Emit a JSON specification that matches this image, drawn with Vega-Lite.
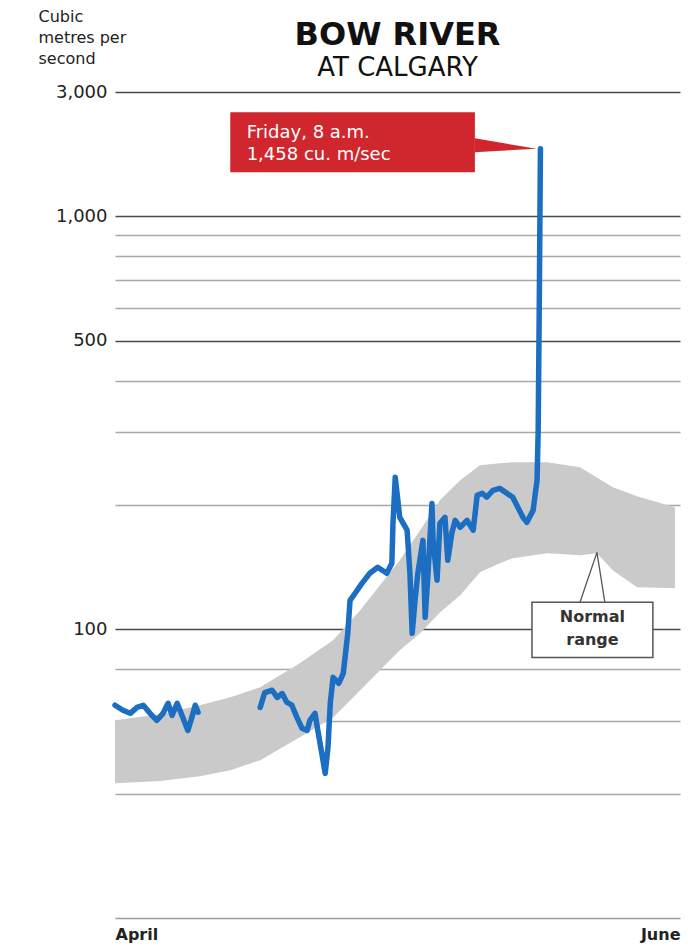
{
  "$schema": "https://vega.github.io/schema/vega-lite/v6.json",
  "width": 565,
  "height": 826,
  "autosize": "none",
  "padding": {"left": 115, "top": 92, "right": 8, "bottom": 29},
  "background": "white",
  "config": {"view": {"stroke": null}, "font": "DejaVu Sans"},
  "title": {
    "text": "BOW RIVER",
    "subtitle": "AT CALGARY",
    "frame": "group",
    "anchor": "middle",
    "font": "DejaVu Sans",
    "fontSize": 32,
    "fontWeight": "bold",
    "color": "#111111",
    "subtitleFont": "DejaVu Sans",
    "subtitleFontSize": 26,
    "subtitleColor": "#111111",
    "subtitlePadding": 3,
    "offset": 10,
    "dy": 84
  },
  "datasets": {
    "band": [
      {"day": 0, "v": 60.2, "v2": 42.4},
      {"day": 8.0, "v": 62.3, "v2": 42.9},
      {"day": 15.0, "v": 65.5, "v2": 44.1},
      {"day": 20.4, "v": 68.5, "v2": 45.6},
      {"day": 25.7, "v": 72.4, "v2": 48.2},
      {"day": 32.7, "v": 82.8, "v2": 54.8},
      {"day": 38.6, "v": 94.1, "v2": 61.2},
      {"day": 43.4, "v": 111.2, "v2": 71.2},
      {"day": 46.9, "v": 127.8, "v2": 79.6},
      {"day": 50.4, "v": 146.9, "v2": 89.0},
      {"day": 54.0, "v": 173.7, "v2": 97.8},
      {"day": 57.5, "v": 205.3, "v2": 109.9},
      {"day": 61.1, "v": 229.5, "v2": 120.9},
      {"day": 64.6, "v": 249.5, "v2": 137.4},
      {"day": 68.1, "v": 252.3, "v2": 144.5},
      {"day": 70.4, "v": 253.7, "v2": 148.6},
      {"day": 76.5, "v": 253.7, "v2": 152.8},
      {"day": 82.3, "v": 246.8, "v2": 151.1},
      {"day": 85.3, "v": 233.3, "v2": 152.8},
      {"day": 88.1, "v": 220.7, "v2": 139.0},
      {"day": 92.4, "v": 209.9, "v2": 126.4},
      {"day": 99.1, "v": 197.4, "v2": 125.7}
    ],
    "flow": [
      {"seg": "a", "day": 0, "v": 65.5},
      {"seg": "a", "day": 1.4, "v": 63.7},
      {"seg": "a", "day": 2.7, "v": 62.6},
      {"seg": "a", "day": 3.9, "v": 64.7},
      {"seg": "a", "day": 5.0, "v": 65.5},
      {"seg": "a", "day": 6.2, "v": 62.6},
      {"seg": "a", "day": 7.4, "v": 60.2},
      {"seg": "a", "day": 8.5, "v": 62.6},
      {"seg": "a", "day": 9.4, "v": 66.2},
      {"seg": "a", "day": 10.1, "v": 61.9},
      {"seg": "a", "day": 11.0, "v": 66.2},
      {"seg": "a", "day": 11.5, "v": 63.7},
      {"seg": "a", "day": 12.4, "v": 59.2},
      {"seg": "a", "day": 12.9, "v": 56.9},
      {"seg": "a", "day": 13.6, "v": 61.2},
      {"seg": "a", "day": 14.2, "v": 65.5},
      {"seg": "a", "day": 14.7, "v": 63.0},
      {"seg": "b", "day": 25.7, "v": 64.7},
      {"seg": "b", "day": 26.5, "v": 70.3},
      {"seg": "b", "day": 27.8, "v": 71.2},
      {"seg": "b", "day": 28.7, "v": 68.4},
      {"seg": "b", "day": 29.6, "v": 69.9},
      {"seg": "b", "day": 30.4, "v": 66.6},
      {"seg": "b", "day": 31.3, "v": 65.5},
      {"seg": "b", "day": 32.2, "v": 61.2},
      {"seg": "b", "day": 33.1, "v": 57.6},
      {"seg": "b", "day": 34.0, "v": 56.9},
      {"seg": "b", "day": 34.5, "v": 60.2},
      {"seg": "b", "day": 35.4, "v": 62.6},
      {"seg": "b", "day": 35.9, "v": 56.9},
      {"seg": "b", "day": 36.6, "v": 50.1},
      {"seg": "b", "day": 37.2, "v": 44.8},
      {"seg": "b", "day": 37.7, "v": 51.8},
      {"seg": "b", "day": 38.1, "v": 66.2},
      {"seg": "b", "day": 38.6, "v": 76.5},
      {"seg": "b", "day": 39.6, "v": 74.0},
      {"seg": "b", "day": 40.4, "v": 78.2},
      {"seg": "b", "day": 41.2, "v": 97.8},
      {"seg": "b", "day": 41.6, "v": 117.5},
      {"seg": "b", "day": 42.5, "v": 122.3},
      {"seg": "b", "day": 43.7, "v": 129.2},
      {"seg": "b", "day": 45.1, "v": 136.7},
      {"seg": "b", "day": 46.5, "v": 141.3},
      {"seg": "b", "day": 48.1, "v": 136.7},
      {"seg": "b", "day": 49.0, "v": 144.5},
      {"seg": "b", "day": 49.2, "v": 180.6},
      {"seg": "b", "day": 49.6, "v": 233.5},
      {"seg": "b", "day": 50.4, "v": 186.7},
      {"seg": "b", "day": 51.7, "v": 173.8},
      {"seg": "b", "day": 52.2, "v": 136.7},
      {"seg": "b", "day": 52.6, "v": 97.8},
      {"seg": "b", "day": 53.1, "v": 117.5},
      {"seg": "b", "day": 53.6, "v": 136.7},
      {"seg": "b", "day": 54.5, "v": 164.2},
      {"seg": "b", "day": 54.9, "v": 106.9},
      {"seg": "b", "day": 55.4, "v": 136.7},
      {"seg": "b", "day": 56.1, "v": 201.7},
      {"seg": "b", "day": 56.3, "v": 164.2},
      {"seg": "b", "day": 57.0, "v": 131.4},
      {"seg": "b", "day": 57.5, "v": 180.6},
      {"seg": "b", "day": 58.4, "v": 186.7},
      {"seg": "b", "day": 58.9, "v": 146.9},
      {"seg": "b", "day": 59.6, "v": 170.6},
      {"seg": "b", "day": 60.2, "v": 183.6},
      {"seg": "b", "day": 61.1, "v": 176.6},
      {"seg": "b", "day": 62.3, "v": 183.6},
      {"seg": "b", "day": 63.4, "v": 173.8},
      {"seg": "b", "day": 64.1, "v": 211.0},
      {"seg": "b", "day": 65.0, "v": 213.5},
      {"seg": "b", "day": 65.8, "v": 208.9},
      {"seg": "b", "day": 66.9, "v": 217.1},
      {"seg": "b", "day": 68.1, "v": 219.4},
      {"seg": "b", "day": 70.4, "v": 208.9},
      {"seg": "b", "day": 72.2, "v": 186.7},
      {"seg": "b", "day": 72.9, "v": 181.6},
      {"seg": "b", "day": 74.0, "v": 194.1},
      {"seg": "b", "day": 74.7, "v": 229.6},
      {"seg": "b", "day": 74.9, "v": 303.4},
      {"seg": "b", "day": 75.1, "v": 627},
      {"seg": "b", "day": 75.3, "v": 1458}
    ],
    "callout_box": [{"day": 20.4, "day2": 63.7, "v": 1786, "v2": 1278}],
    "callout_pointer": [
      {"day": 63.7, "v": 1545, "v2": 1429},
      {"day": 74.6, "v": 1458, "v2": 1458}
    ],
    "callout_text": [
      {"day": 23.3, "v": 1588, "label": "Friday, 8 a.m."},
      {"day": 23.3, "v": 1405, "label": "1,458 cu. m/sec"}
    ],
    "normal_pointer": [
      {"day": 82.3, "v": 116.3},
      {"day": 85.3, "v": 153.6},
      {"day": 86.7, "v": 116.3}
    ],
    "normal_box": [{"day": 73.8, "day2": 95.2, "v": 116.3, "v2": 85.5}],
    "normal_text": [
      {"day": 84.5, "v": 106.9, "label": "Normal"},
      {"day": 84.5, "v": 94.1, "label": "range"}
    ]
  },
  "encoding": {
    "x": {
      "field": "day",
      "type": "quantitative",
      "scale": {"domain": [0, 100], "nice": false, "zero": false},
      "axis": {
        "values": [0, 100],
        "labelExpr": "datum.value == 0 ? 'April' : 'June'",
        "labelFlush": true,
        "labelFontWeight": "bold",
        "labelFontSize": 16,
        "labelColor": "#222222",
        "labelPadding": 8,
        "ticks": false,
        "grid": false,
        "domainColor": "#9a9a9a",
        "domainWidth": 1.5,
        "title": null
      }
    },
    "y": {
      "field": "v",
      "type": "quantitative",
      "scale": {"type": "log", "domain": [20, 2000], "nice": false},
      "axis": {
        "values": [40, 60, 80, 100, 200, 300, 400, 500, 600, 700, 800, 900, 1000, 2000],
        "labelExpr": "datum.value == 2000 ? '3,000' : datum.value == 1000 ? '1,000' : datum.value == 500 ? '500' : datum.value == 100 ? '100' : ''",
        "grid": true,
        "gridColor": {"condition": {"test": "datum.value == 100 || datum.value == 500 || datum.value == 1000 || datum.value == 2000", "value": "#4a4a4a"}, "value": "#a8a8a8"},
        "gridWidth": {"condition": {"test": "datum.value == 100 || datum.value == 500 || datum.value == 1000 || datum.value == 2000", "value": 1.6}, "value": 1.3},
        "domain": false,
        "ticks": false,
        "labelPadding": 8,
        "labelFontSize": 18,
        "labelColor": "#222222",
        "title": ["Cubic", "metres per", "second"],
        "titleAngle": 0,
        "titleAlign": "left",
        "titleBaseline": "top",
        "titleX": -77,
        "titleY": -84,
        "titleFontSize": 16,
        "titleFontWeight": "normal",
        "titleColor": "#222222",
        "titleLineHeight": 21
      }
    }
  },
  "layer": [
    {
      "data": {"name": "band"},
      "mark": {"type": "area", "color": "#cacaca"},
      "encoding": {"y2": {"field": "v2"}}
    },
    {
      "data": {"name": "flow"},
      "mark": {"type": "line", "color": "#1b6ec2", "strokeWidth": 5.5, "strokeJoin": "round", "strokeCap": "round"},
      "encoding": {"detail": {"field": "seg"}}
    },
    {
      "data": {"name": "callout_box"},
      "mark": {"type": "rect", "color": "#d0262d"},
      "encoding": {"x2": {"field": "day2"}, "y2": {"field": "v2"}}
    },
    {
      "data": {"name": "callout_pointer"},
      "mark": {"type": "area", "color": "#d0262d"},
      "encoding": {"y2": {"field": "v2"}}
    },
    {
      "data": {"name": "callout_text"},
      "mark": {"type": "text", "align": "left", "baseline": "middle", "color": "white", "fontSize": 18, "font": "DejaVu Sans"},
      "encoding": {"text": {"field": "label"}}
    },
    {
      "data": {"name": "normal_pointer"},
      "mark": {"type": "line", "color": "#555555", "strokeWidth": 1.3},
      "encoding": {}
    },
    {
      "data": {"name": "normal_box"},
      "mark": {"type": "rect", "fill": "white", "stroke": "#555555", "strokeWidth": 1.5},
      "encoding": {"x2": {"field": "day2"}, "y2": {"field": "v2"}}
    },
    {
      "data": {"name": "normal_text"},
      "mark": {"type": "text", "align": "center", "baseline": "middle", "color": "#333333", "fontSize": 16, "fontWeight": "bold", "font": "DejaVu Sans"},
      "encoding": {"text": {"field": "label"}}
    }
  ]
}
